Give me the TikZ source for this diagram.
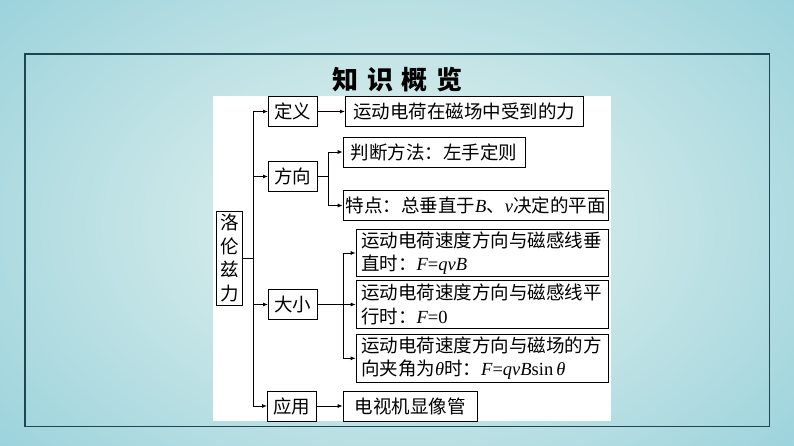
\documentclass[tikz,border=0pt]{standalone}
\usepackage{fontspec}
\setmainfont{Noto Sans CJK SC}
\newfontfamily\latinfont{Liberation Serif}
\newcommand\va[1]{{\latinfont\itshape #1}}
\newcommand\lat[1]{{\latinfont #1}}
\usetikzlibrary{arrows.meta}
\definecolor{bgteal}{RGB}{58,168,195}
\definecolor{bglight}{RGB}{234,245,240}
\definecolor{framedark}{RGB}{30,70,82}
\tikzset{
  box/.style={draw, line width=0.9pt, inner sep=0pt, minimum height=30pt,
    font=\fontsize{18.5}{23.5}\selectfont, anchor=west},
  twoline/.style={box, text width=242pt, align=left, minimum height=47.5pt, inner xsep=5pt},
  link/.style={line width=0.9pt},
  arrowlink/.style={link, -{Latex[length=5pt,width=4pt]}}
}

\begin{document}
\begin{tikzpicture}[x=1pt, y=-1pt]
    % background
    \useasboundingbox (0,0) rectangle (794,446);
    \fill[bgteal] (0,0) rectangle (794,446);
    \begin{scope}
        \clip (0,0) rectangle (794,446);
        \shade[inner color=bglight, outer color=bgteal] (-780,-560) rectangle (1580,1010);
    \end{scope}
    \draw[framedark, line width=1.2pt] (25,54) rectangle (769.5,426.7);
    \fill[white] (213,96) rectangle (611,421);
    \node[font=\fontsize{26}{30}\selectfont\bfseries] (title) at (397.5,80)
        {知\hspace{9pt}识\hspace{9pt}概\hspace{9pt}览};

    % first level
    \node[box, text width=20pt, align=center, inner xsep=3pt, minimum height=94pt]
        (lorentz) at (216,258) {洛\\伦\\兹\\力};
    \node[box, minimum width=49pt] (define) at (268,111.5) {定义};
    \node[box, minimum width=49pt] (direction) at (268,176.5) {方向};
    \node[box, minimum width=49pt] (magnitude) at (268,304.5) {大小};
    \node[box, minimum width=49pt] (application) at (267,406) {应用};

    % second level
    \node[box, minimum width=238pt] (defText) at (345,111.5) {运动电荷在磁场中受到的力};
    \node[box, minimum width=182pt] (rule) at (342.7,152) {判断方法：左手定则};
    \node[box, minimum width=265pt] (feature) at (342.7,205.5)
        {特点：总垂直于\va{B}、\va{v}决定的平面};
    \node[twoline] (perp) at (355.7,253)
        {运动电荷速度方向与磁感线垂\\直时：\va{F}\lat{=}\va{qvB}};
    \node[twoline] (para) at (355.7,304.5)
        {运动电荷速度方向与磁感线平\\行时：\va{F}\lat{=0}};
    \node[twoline] (angle) at (355.7,358.3)
        {运动电荷速度方向与磁场的方\\向夹角为\va{θ}时：\va{F}\lat{=}\va{qvB}\lat{sin\,}\va{θ}};
    \node[box, minimum width=134pt] (tv) at (342.7,406) {电视机显像管};

    % connectors
    \coordinate (trunk) at (253,0);
    \coordinate (dirFork) at (328,0);
    \coordinate (magFork) at (343.3,0);
    \draw[link] (lorentz.east) -- (lorentz.east -| trunk);
    \draw[link] (define.west -| trunk) -- (application.west -| trunk);
    \foreach \n in {define, direction, magnitude, application}
        \draw[arrowlink] (\n.west -| trunk) -- (\n.west);
    \draw[arrowlink] (define.east) -- (defText.west);
    \draw[link] (direction.east) -- (direction.east -| dirFork);
    \draw[link] (rule.west -| dirFork) -- (feature.west -| dirFork);
    \foreach \n in {rule, feature}
        \draw[arrowlink] (\n.west -| dirFork) -- (\n.west);
    \draw[link] (magnitude.east) -- (magnitude.east -| magFork);
    \draw[link] (perp.west -| magFork) -- (angle.west -| magFork);
    \foreach \n in {perp, para, angle}
        \draw[arrowlink] (\n.west -| magFork) -- (\n.west);
    \draw[arrowlink] (application.east) -- (tv.west);
\end{tikzpicture}
\end{document}
